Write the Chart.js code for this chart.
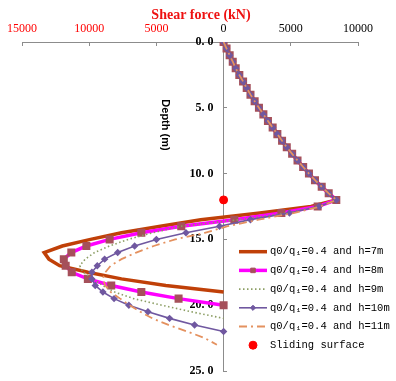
<!DOCTYPE html>
<html><head><meta charset="utf-8">
<script src="https://cdn.jsdelivr.net/npm/chart.js@4"></script>
<style>html,body{margin:0;padding:0;background:#fff}canvas{display:block}</style>
</head><body>
<canvas id="c" width="396" height="381"></canvas>
<script>
// Depth (m) sample points, every 0.5 m
const depths = [0,0.5,1,1.5,2,2.5,3,3.5,4,4.5,5,5.5,6,6.5,7,7.5,8,8.5,9,9.5,10,10.5,11,11.5,12,
  12.5,13,13.5,14,14.5,15,15.5,16,16.5,17,17.5,18,18.5,19,19.5,20,20.5,21,21.5,22,22.5,23];
// Shear force (kN), common part 0 - 12 m
const upperShear = [0,220,450,680,900,1170,1450,1720,2000,2310,2630,2960,3300,3650,4000,4350,4700,5100,5500,5920,6350,6800,7300,7820,8385];
// Shear force (kN) below 12 m for each embedment
const lowerH7  = [6500,2700,-1700,-4700,-7600,-9900,-12000,-13350,-13000,-12200,-10100,-7600,-4300,0];
const lowerH8  = [7000,4300,800,-3150,-6120,-8480,-10210,-11330,-11890,-11750,-11300,-10100,-8360,-6120,-3350,0];
const lowerH9  = [7050,4600,1200,-3200,-5300,-7100,-8500,-9600,-10300,-10700,-10450,-9700,-9000,-8100,-6700,-4600,-2400,0];
const lowerH10 = [7100,4900,2000,-300,-2800,-5000,-6620,-7880,-8850,-9400,-9800,-9800,-9550,-8980,-8150,-7050,-5630,-4020,-2160,0];
const lowerH11 = [7200,5200,2600,300,-1400,-3600,-5200,-6500,-7600,-8400,-8800,-9000,-8800,-8400,-7700,-7000,-6200,-5300,-4100,-2700,-1400,-500];
const slidingDepth = [12];
const slidingShear = [0];
const seriesLabels = ['q0/q\u2081=0.4 and h=7m','q0/q\u2081=0.4 and h=8m','q0/q\u2081=0.4 and h=9m','q0/q\u2081=0.4 and h=10m','q0/q\u2081=0.4 and h=11m','Sliding surface'];
const xTickValues = [-15000,-10000,-5000,0,5000,10000];
const yTickValues = [0,5,10,15,20,25];

function pts(lower){
  const s = upperShear.concat(lower);
  return s.map((v,i)=>({x:v, y:depths[i]}));
}

const datasets = [
  {label:seriesLabels[0], data:pts(lowerH7), showLine:true, borderColor:'rgb(192,64,8)', borderWidth:3.5, pointRadius:0, order:5},
  {label:seriesLabels[1], data:pts(lowerH8), showLine:true, borderColor:'#ff00ff', borderWidth:3.5, pointRadius:3.2, pointStyle:'rect', pointBackgroundColor:'rgb(165,80,90)', pointBorderColor:'rgb(165,80,90)', order:4},
  {label:seriesLabels[2], data:pts(lowerH9), showLine:true, borderColor:'rgb(140,158,100)', borderWidth:1.6, borderDash:[1.5,2.5], pointRadius:0, order:3},
  {label:seriesLabels[3], data:pts(lowerH10), showLine:true, borderColor:'rgb(112,88,160)', borderWidth:1.6, pointRadius:2.6, pointStyle:'rectRot', pointBackgroundColor:'rgb(112,88,160)', pointBorderColor:'rgb(112,88,160)', order:2},
  {label:seriesLabels[4], data:pts(lowerH11), showLine:true, borderColor:'rgb(228,145,95)', borderWidth:1.8, borderDash:[8,4,2,4], pointRadius:0, order:1},
  {label:seriesLabels[5], data:slidingShear.map((v,i)=>({x:v,y:slidingDepth[i]})), showLine:false, pointRadius:4, pointStyle:'circle', pointBackgroundColor:'#ff0000', pointBorderColor:'#ff0000', borderColor:'#ff0000', order:0}
];

const shiftYLabels = {
  id:'shiftYLabels',
  beforeDraw(chart){
    const s = chart.scales.y;
    const x0 = chart.scales.x.getPixelForValue(0) - 10;
    s.getLabelItems(chart.chartArea).forEach(it=>{ it.options.translation[0] = x0; });
  }
};

const annot = {
  id:'annot',
  afterDraw(chart){
    const ctx = chart.ctx;
    ctx.save();
    ctx.fillStyle = '#ee1111';
    ctx.font = 'bold 14px "Liberation Serif"';
    ctx.textAlign = 'center'; ctx.textBaseline = 'middle';
    ctx.fillText('Shear force (kN)', 201, 15);
    ctx.save();
    ctx.translate(165, 125);
    ctx.rotate(Math.PI/2);
    ctx.fillStyle = '#000';
    ctx.font = 'bold 11px "Liberation Sans"';
    ctx.fillText('Depth (m)', 0, 0);
    ctx.restore();
    chart.data.datasets.forEach((ds,i)=>{
      const y = 251.7 + i*18.7;
      ctx.save();
      if (ds.showLine) {
        ctx.strokeStyle = ds.borderColor; ctx.lineWidth = ds.borderWidth;
        ctx.setLineDash(ds.borderDash || []);
        ctx.beginPath(); ctx.moveTo(239,y); ctx.lineTo(267,y); ctx.stroke();
      }
      ctx.setLineDash([]);
      if (ds.pointRadius > 0) {
        ctx.fillStyle = ds.pointBackgroundColor; ctx.strokeStyle = ds.pointBorderColor; ctx.lineWidth = 1;
        Chart.helpers.drawPoint(ctx, {pointStyle:ds.pointStyle, radius:ds.pointRadius, borderWidth:1, rotation:0}, 253, y);
      }
      ctx.fillStyle = '#000';
      ctx.font = '10.5px "Liberation Mono","DejaVu Sans Mono"';
      ctx.textAlign = 'left'; ctx.textBaseline = 'middle';
      ctx.fillText(ds.label, 270, y);
      ctx.restore();
    });
    ctx.restore();
  }
};

new Chart(document.getElementById('c'), {
  type:'scatter',
  data:{datasets},
  options:{
    responsive:false, animation:false, devicePixelRatio:1,
    layout:{padding:{left:22, right:38, top:0, bottom:10}},
    plugins:{legend:{display:false}, tooltip:{enabled:false}},
    scales:{
      x:{type:'linear', position:'top', min:-15000, max:10000,
        afterBuildTicks:s=>{ s.ticks = xTickValues.map(v=>({value:v})); },
        afterFit:s=>{ s.height = 42; s.paddingLeft = 0; s.paddingRight = 0; },
        grid:{drawOnChartArea:false, drawTicks:true, tickLength:-4, color:'#8c8c8c'},
        border:{display:true, color:'#8c8c8c', width:1},
        ticks:{padding:10, maxRotation:0, autoSkip:false,
          color:c=> (c.tick && c.tick.value < 0) ? '#ff0000' : '#000',
          font:{family:'Liberation Serif', size:12},
          callback:v=>String(Math.abs(v))}
      },
      y:{type:'linear', position:{x:0}, min:0, max:25, reverse:true,
        afterBuildTicks:s=>{ s.ticks = yTickValues.map(v=>({value:v})); },
        afterFit:s=>{ s.paddingTop = 0; s.paddingBottom = 0; },
        grid:{drawOnChartArea:false, drawTicks:true, tickLength:-4, color:'#8c8c8c'},
        border:{display:true, color:'#8c8c8c', width:1},
        ticks:{padding:6, color:'#000', font:{family:'Liberation Serif', size:12, weight:'bold'},
          callback:v=>Number(v).toFixed(1).replace('.', '. ')}
      }
    }
  },
  plugins:[shiftYLabels, annot]
});
</script>
</body></html>
